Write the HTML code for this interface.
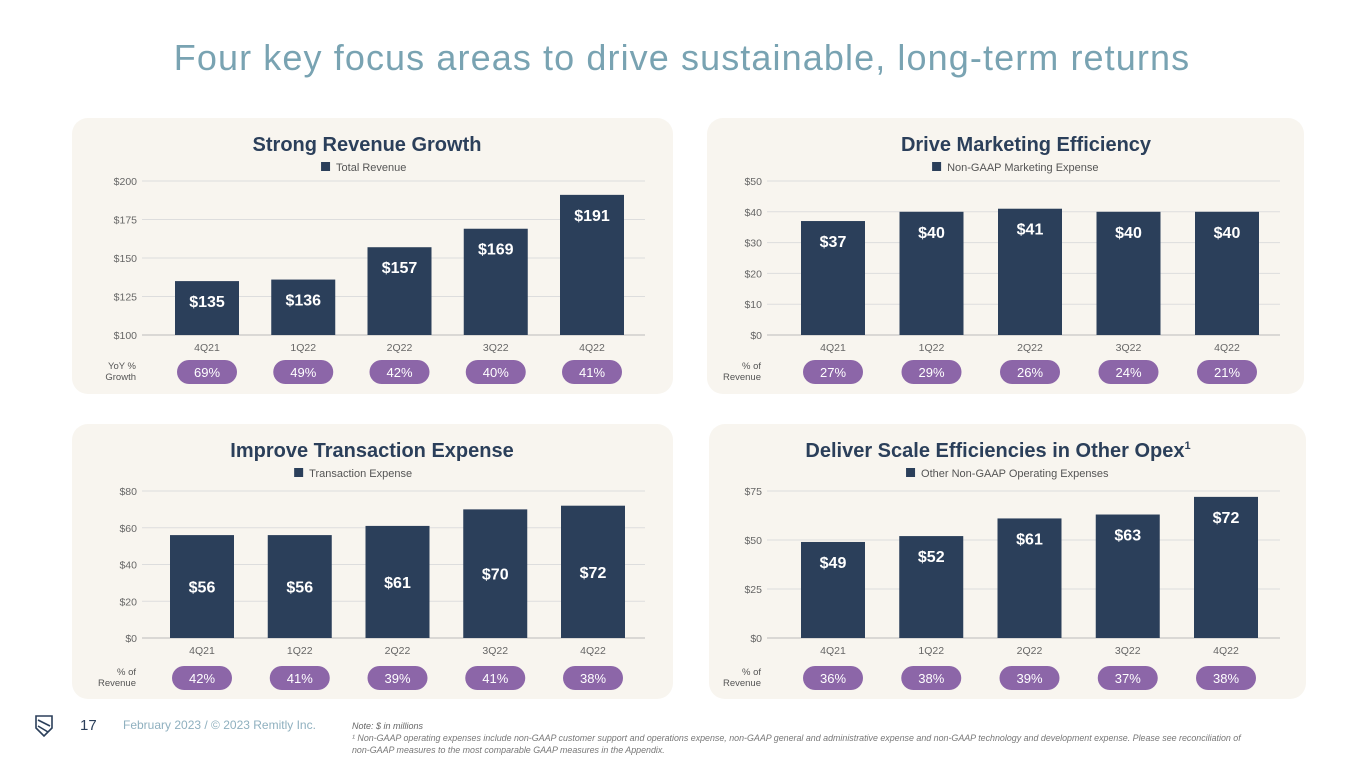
<!DOCTYPE html>
<html><head><meta charset="utf-8">
<style>
body{margin:0;width:1365px;height:768px;background:#fff;font-family:"Liberation Sans",sans-serif;overflow:hidden;position:relative}
svg{position:absolute;left:0;top:0}
</style></head>
<body>
<svg id="s" width="1365" height="768">
<text x="682" y="70" text-anchor="middle" font-size="36" letter-spacing="1.1" fill="#79a3b2">Four key focus areas to drive sustainable, long-term returns</text>
<g>
<path d="M36 716 L52 716 L52 728 L44 736 L36 728 Z M38 720 L50 726 M38 726 L48 732" fill="none" stroke="#2b3f5a" stroke-width="1.6"/>
<text x="80" y="730" font-size="15" fill="#2b3f5a">17</text>
<text x="123" y="729" font-size="12" fill="#8fb0bf">February 2023 / © 2023 Remitly Inc.</text>
<text x="352" y="729" font-size="9" font-style="italic" fill="#666">Note: $ in millions</text>
<text x="352" y="741" font-size="8.9" font-style="italic" fill="#777">¹ Non-GAAP operating expenses include non-GAAP customer support and operations expense, non-GAAP general and administrative expense and non-GAAP technology and development expense. Please see reconciliation of</text>
<text x="352" y="753" font-size="8.9" font-style="italic" fill="#777">non-GAAP measures to the most comparable GAAP measures in the Appendix.</text>
</g>
</svg>
<script>
const categories=["4Q21","1Q22","2Q22","3Q22","4Q22"];
const revenueValues=[135,136,157,169,191];
const revenueGrowth=["69%","49%","42%","40%","41%"];
const revenueTicks=[100,125,150,175,200];
const marketingValues=[37,40,41,40,40];
const marketingPct=["27%","29%","26%","24%","21%"];
const marketingTicks=[0,10,20,30,40,50];
const transactionValues=[56,56,61,70,72];
const transactionPct=["42%","41%","39%","41%","38%"];
const transactionTicks=[0,20,40,60,80];
const opexValues=[49,52,61,63,72];
const opexPct=["36%","38%","39%","37%","38%"];
const opexTicks=[0,25,50,75];

const NS="http://www.w3.org/2000/svg";
const svg=document.getElementById('s');
function mk(tag,attrs,parent,text){const e=document.createElementNS(NS,tag);for(const k in attrs)e.setAttribute(k,attrs[k]);if(text!==undefined)e.textContent=text;(parent||svg).appendChild(e);return e;}

function panel(o){
  const g=mk('g',{});
  
  
  const bg=mk('rect',{x:o.bx,y:o.by,width:o.bw,height:o.bh,rx:16,fill:'#f8f5ef'},g);
  
  
  const t=mk('text',{x:o.tc,y:o.by+33,'text-anchor':'middle','font-size':20,'font-weight':'bold',fill:'#2b3f5a'},g,o.title);
  
  
  if(o.sup){const s=mk('tspan',{'font-size':11,dy:-8},t,'1');}
  const lw=o.legend.length*6.3;
  const lx=o.lc-lw/2-12;
  const lr=mk('rect',{x:lx,y:o.by+44,width:9,height:9,fill:'#2b3f5a'},g);
  
  
  const lt=mk('text',{x:lx+15,y:o.by+53,'font-size':11,fill:'#555'},g,o.legend);
  
  
  const tmin=o.ticks[0],tmax=o.ticks[o.ticks.length-1];
  const yS=v=>o.y0-(v-tmin)/(tmax-tmin)*(o.y0-o.y1);
  o.ticks.forEach(tv=>{
    const l=mk('line',{x1:o.gx0,x2:o.gx1,y1:yS(tv),y2:yS(tv),stroke:tv===tmin?'#bbb':'#ddd','stroke-width':1},g);
    
    
    const tl=mk('text',{x:o.gx0-5,y:yS(tv)+4,'text-anchor':'end','font-size':10.5,fill:'#666'},g,'$'+tv);
    
    
  });
  const n=categories.length;
  const step=(o.cx1-o.cx0)/(n-1);
  const xS=i=>o.cx0+i*step;
  o.values.forEach((v,i)=>{
    const cx=xS(i),top=yS(v);
    const b=mk('rect',{x:cx-32,y:top,width:64,height:o.y0-top,fill:'#2b3f5a'},g);
    
    
    const ly=o.mid?(top+o.y0)/2+6:top+26;
    const vl=mk('text',{x:cx,y:ly,'text-anchor':'middle','font-size':16,'font-weight':'bold',fill:'#fff'},g,'$'+v);
    
    
    const xl=mk('text',{x:cx,y:o.y0+16,'text-anchor':'middle','font-size':10.5,fill:'#666'},g,categories[i]);
    
    
    const p=mk('rect',{x:cx-30,y:o.py-12,width:60,height:24,rx:12,fill:'#8c66a8'},g);
    
    
    const pt=mk('text',{x:cx,y:o.py+5,'text-anchor':'middle','font-size':13,fill:'#fff'},g,o.pct[i]);
    
    
  });
  const r1=mk('text',{x:o.gx0-6,y:o.py-3,'text-anchor':'end','font-size':9.5,fill:'#555'},g,o.row[0]);
  
  
  const r2=mk('text',{x:o.gx0-6,y:o.py+8,'text-anchor':'end','font-size':9.5,fill:'#555'},g,o.row[1]);
  
  
}
panel({name:'revenue-chart',bx:72,by:118,bw:601,bh:276,tc:367,lc:374,title:'Strong Revenue Growth',legend:'Total Revenue',ticks:revenueTicks,values:revenueValues,pct:revenueGrowth,row:['YoY %','Growth'],gx0:142,gx1:645,y0:335,y1:181,cx0:207,cx1:592,py:372,mid:false});
panel({name:'marketing-chart',bx:707,by:118,bw:597,bh:276,tc:1026,lc:1026,title:'Drive Marketing Efficiency',legend:'Non-GAAP Marketing Expense',ticks:marketingTicks,values:marketingValues,pct:marketingPct,row:['% of','Revenue'],gx0:767,gx1:1280,y0:335,y1:181,cx0:833,cx1:1227,py:372,mid:false});
panel({name:'transaction-chart',bx:72,by:424,bw:601,bh:275,tc:372,lc:366,title:'Improve Transaction Expense',legend:'Transaction Expense',ticks:transactionTicks,values:transactionValues,pct:transactionPct,row:['% of','Revenue'],gx0:142,gx1:645,y0:638,y1:491,cx0:202,cx1:593,py:678,mid:true});
panel({name:'opex-chart',bx:709,by:424,bw:597,bh:275,tc:998,lc:1022,title:'Deliver Scale Efficiencies in Other Opex',sup:true,legend:'Other Non-GAAP Operating Expenses',ticks:opexTicks,values:opexValues,pct:opexPct,row:['% of','Revenue'],gx0:767,gx1:1280,y0:638,y1:491,cx0:833,cx1:1226,py:678,mid:false});
</script>
</body></html>
